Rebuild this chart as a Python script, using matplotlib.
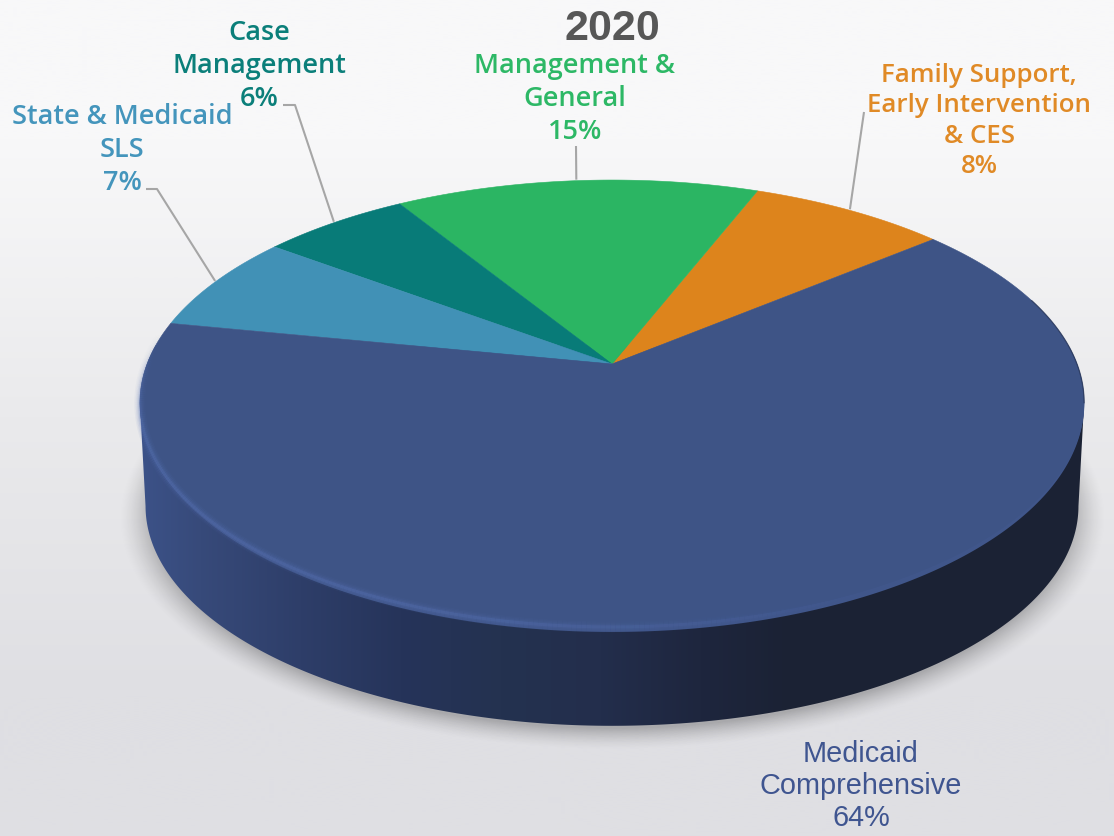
import numpy as np
import matplotlib
matplotlib.use("Agg")
import matplotlib.pyplot as plt
from matplotlib.patches import Polygon
from matplotlib.collections import LineCollection

# ---- data ----
title = "2020"
categories = ["Family Support,\nEarly Intervention\n& CES", "Management &\nGeneral", "Case\nManagement",
              "State & Medicaid\nSLS", "Medicaid\nComprehensive"]
values = [8.0, 14.7, 6.0, 7.1, 64.2]
face_colors = ["#DD841C", "#2BB563", "#087B78", "#4191B6", "#3E5486"]
text_colors = ["#E08A26", "#2DB866", "#0B7F7A", "#4495BC", "#3F5590"]
start_angle = 39.9

# ---- geometry of the tilted disc (perspective projection of a unit circle) ----
W, H = 1114, 836
CX, CY, A, B, K = 612.0, 364.0, 465.0, 215.8, 0.173
DROP = 104.0
SCALE_LOW = 0.988


def project(theta_deg, r=1.0, dy=0.0, scale=1.0):
    t = np.radians(theta_deg)
    u, v = r * np.cos(t), r * np.sin(t)
    w = 1 + K * v
    return CX + scale * A * u / w, CY + dy - scale * B * v / w


fig = plt.figure(figsize=(W / 100, H / 100), dpi=100)
ax = fig.add_axes([0, 0, 1, 1])
ax.set_xlim(0, W)
ax.set_ylim(H, 0)
ax.axis("off")

# background
bg = np.array([[[248, 248, 249]], [[234, 234, 236]], [[223, 223, 227]]], dtype=float) / 255
ax.imshow(bg, extent=[0, W, H, 0], aspect="auto", interpolation="bilinear", zorder=0)

# soft shadow under the disc
yy, xx = np.mgrid[0:H, 0:W]
sh_y = (CY + DROP + 8 - yy) / (B * 0.995)
sh_x = (xx - CX) / (A * 1.0)
sh_w = 1 / (1 - K * sh_y)
rad = np.hypot(sh_x * sh_w, sh_y * sh_w)
alpha = np.clip((1.045 - rad) / 0.07, 0, 1) ** 1.5 * 0.24
shadow = np.zeros((H, W, 4))
shadow[..., 3] = alpha
ax.imshow(shadow, extent=[0, W, H, 0], aspect="auto", zorder=1, interpolation="bilinear")

# side wall
th = np.linspace(-170, -10, 500)
bx, by = project(th, dy=DROP, scale=SCALE_LOW)
tx, ty = project(np.array([-10, -170]))
wall_path = Polygon(np.column_stack([np.r_[bx, tx], np.r_[by, ty]]), closed=True,
                    transform=ax.transData, facecolor="none", edgecolor="none")
ax.add_patch(wall_path)
stops_x = [140, 200, 300, 400, 500, 600, 700, 790, 1090]
stops_r = [60, 55, 46, 38, 36, 35, 30, 27, 27]
stops_g = [82, 74, 62, 52, 50, 46, 38, 34, 34]
stops_b = [136, 122, 105, 90, 80, 76, 62, 52, 52]
gx = np.arange(W)
grad = np.stack([np.interp(gx, stops_x, c) for c in (stops_r, stops_g, stops_b)], axis=-1)[None, :, :] / 255
im = ax.imshow(grad, extent=[0, W, H, 0], aspect="auto", zorder=2)
im.set_clip_path(wall_path)
wall_path.set_zorder(2)

# bevel below the rim
th = np.linspace(-185, 5, 400)
rx, ry = project(th)
ry = ry + 7 * np.clip(-np.sin(np.radians(th)), 0, 1)
ax.add_patch(Polygon(np.column_stack([rx, ry]), closed=True, fc="#40568A", ec="none", zorder=3))

# pie wedges (value -> angle, counter-clockwise from the start angle)
angles = start_angle + np.r_[0, np.cumsum(values)] * 360.0 / sum(values)
mids = {}
for i, (a0, a1) in enumerate(zip(angles[:-1], angles[1:])):
    th = np.linspace(a0, a1, 300)
    px, py = project(th)
    ax.add_patch(Polygon(np.column_stack([np.r_[CX, px], np.r_[CY, py]]), closed=True,
                         fc=face_colors[i], ec=face_colors[i], lw=0.4, zorder=4))
    mids[i] = (a0 + a1) / 2

# rim highlight
th = np.linspace(172, 300, 260)
hx, hy = project(th)
hy = hy + 2.0 * np.clip(-np.sin(np.radians(th)), 0, 1)
pts = np.column_stack([hx, hy]).reshape(-1, 1, 2)
segs = np.concatenate([pts[:-1], pts[1:]], axis=1)
fade = np.interp(th[:-1], [172, 195, 255, 300], [0, 1, 0.8, 0])
for lw, strength in [(8, 0.07), (6, 0.1), (4, 0.15), (2.2, 0.3)]:
    cols = np.zeros((len(segs), 4))
    cols[:, :3] = matplotlib.colors.to_rgb("#5A75B8")
    cols[:, 3] = fade * strength
    ax.add_collection(LineCollection(segs, colors=cols, linewidths=lw, capstyle="butt", zorder=5))

# dark edge on the right of the disc
th = np.linspace(-10, 18, 60)
ex, ey = project(th)
ax.plot(ex, ey, color="#1E2A48", lw=0.9, alpha=0.6, zorder=5)

# labels
FONT = ["Open Sans", "DejaVu Sans"]
label_pos = [(979, 121), (575, 99), (259, 66), (122, 150), (861, 786)]
fonts = [FONT, FONT, FONT, FONT, ["Liberation Sans"]]
sizes = [18.6, 19.5, 19.5, 19.5, 20.8]
spacing = [1.28, 1.22, 1.22, 1.22, 1.2]
for i, (cat, val) in enumerate(zip(categories, values)):
    ax.text(*label_pos[i], f"{cat}\n{val:.0f}%", color=text_colors[i], ha="center", va="center",
            fontsize=sizes[i], family=fonts[i], fontweight=600 if i < 4 else "normal",
            linespacing=spacing[i], zorder=7)
ax.text(612, 29, title, color="#575757", ha="center", va="center", fontsize=31,
        fontweight="bold", family="Liberation Sans", zorder=7)

# leader lines: from the label to the middle of the wedge rim
leader_starts = {0: [(864, 112)], 1: [(576, 146)], 2: [(283, 105), (295, 105)], 3: [(146, 189), (157, 189)]}
for i, start in leader_starts.items():
    ex, ey = project(mids[i])
    xs = [p[0] for p in start] + [ex]
    ys = [p[1] for p in start] + [ey - 1]
    ax.plot(xs, ys, color="#A6A6A6", lw=1.5, zorder=6, solid_capstyle="butt")

fig.savefig("out.png", dpi=100)
